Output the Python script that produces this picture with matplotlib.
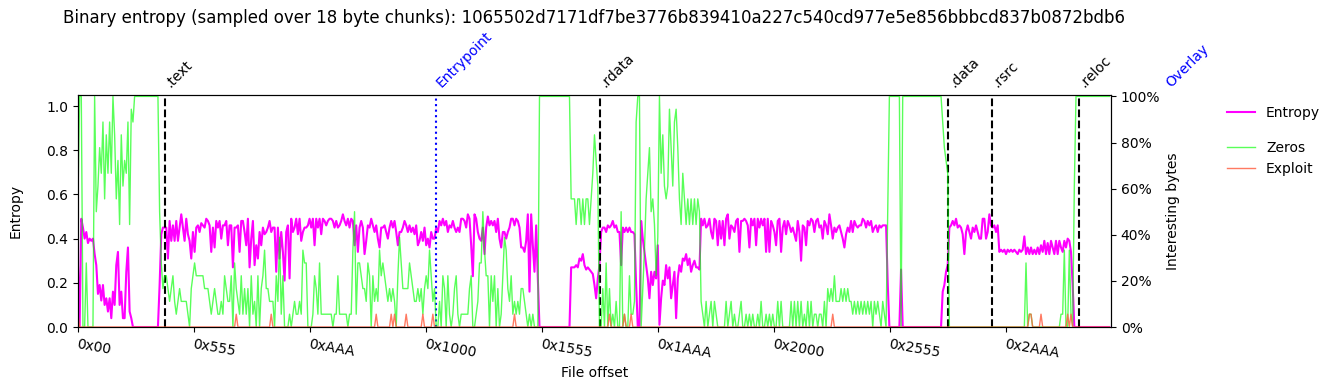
import numpy as np
import matplotlib
matplotlib.use("Agg")
import matplotlib.pyplot as plt
from matplotlib.ticker import PercentFormatter

# -------------------------------
# Data
# -------------------------------
file_hash = "1065502d7171df7be3776b839410a227c540cd977e5e856bbbcd837b0872bdb6"
chunk = 18          # bytes per sample (title)
file_size = 12152   # end of the x axis in bytes

# normalised entropy per sample (left axis)
entropy = [
    0.28, 0.00, 0.49, 0.45, 0.40, 0.43, 0.38, 0.40, 0.39, 0.40,
    0.33, 0.28, 0.15, 0.19, 0.12, 0.19, 0.10, 0.13, 0.07, 0.13, 0.04, 0.16,
    0.10, 0.28, 0.34, 0.10, 0.16, 0.04, 0.04, 0.25, 0.36, 0.07, 0.04, 0.00,
    0, 0, 0, 0, 0, 0, 0, 0, 0, 0, 0, 0, 0, 0, 0,
    0.19, 0.42, 0.45, 0.45, 0.45, 0.31, 0.48, 0.39, 0.46, 0.39, 0.48, 0.39, 0.45,
    0.51, 0.45, 0.39, 0.49, 0.42, 0.39, 0.31, 0.43, 0.34, 0.45, 0.46, 0.43,
    # 0x3b0 ..
    0.47, 0.46, 0.45, 0.49, 0.48, 0.46, 0.34, 0.45, 0.36, 0.48,
    0.45, 0.48, 0.40, 0.46, 0.46, 0.48, 0.37, 0.46, 0.46, 0.27,
    0.45, 0.45, 0.46, 0.34, 0.48, 0.48, 0.43, 0.37, 0.49, 0.27,
    0.40, 0.48, 0.28, 0.37, 0.31, 0.43, 0.37, 0.45, 0.42, 0.43,
    0.45, 0.48, 0.43, 0.45, 0.45, 0.25, 0.45, 0.31, 0.43, 0.34,
    0.21, 0.43, 0.46, 0.22, 0.49, 0.43, 0.45, 0.49, 0.42, 0.49,
    0.39, 0.43, 0.45, 0.45, 0.46, 0.49, 0.45, 0.49, 0.37, 0.49,
    0.45, 0.49, 0.42, 0.49, 0.48, 0.46, 0.48, 0.49,
    # 0xb90 ..
    0.49, 0.48, 0.45, 0.48, 0.45, 0.46, 0.48, 0.51, 0.48, 0.46,
    0.49, 0.45, 0.49, 0.48, 0.37, 0.46, 0.34, 0.45, 0.48, 0.45,
    0.33, 0.39, 0.46, 0.45, 0.49, 0.46, 0.43, 0.46, 0.40, 0.36,
    0.45, 0.45, 0.46, 0.43, 0.40, 0.45, 0.48, 0.45, 0.48, 0.43,
    0.37, 0.43, 0.43, 0.45, 0.48, 0.46, 0.43, 0.46, 0.43, 0.45,
    0.42, 0.46, 0.37, 0.39, 0.43, 0.39, 0.45, 0.37, 0.40, 0.36,
    0.43, 0.40, 0.40, 0.45, 0.43, 0.48, 0.46, 0.49, 0.46, 0.48,
    0.43, 0.46, 0.45, 0.48, 0.45, 0.43, 0.45, 0.43,
    # 0x1170 ..
    0.49, 0.49, 0.48, 0.45, 0.51, 0.49, 0.37, 0.23, 0.51, 0.49,
    0.43, 0.40, 0.39, 0.45, 0.33, 0.45, 0.50, 0.46, 0.48, 0.46,
    0.48, 0.43, 0.49, 0.40, 0.36, 0.43, 0.43, 0.40, 0.43, 0.45,
    0.49, 0.49, 0.46, 0.49, 0.48, 0.45, 0.36, 0.36, 0.34, 0.39,
    0.51, 0.16, 0.51, 0.37, 0.25, 0.46, 0.22,
    0, 0, 0, 0, 0, 0, 0, 0, 0, 0, 0, 0, 0, 0, 0, 0, 0, 0, 0,
    0.27, 0.27, 0.27, 0.28, 0.27, 0.31, 0.30, 0.33, 0.28, 0.26, 0.27, 0.26,
    # 0x1760 ..
    0.25, 0.24, 0.19, 0.13, 0.22, 0.28, 0.43, 0.45, 0.45, 0.43,
    0.46, 0.45, 0.46, 0.48, 0.45, 0.46, 0.43, 0.43, 0.28, 0.45,
    0.43, 0.45, 0.43, 0.45, 0.43, 0.43, 0.42, 0.19, 0.00, 0.00,
    0.48, 0.40, 0.34, 0.28, 0.22, 0.13, 0.25, 0.19, 0.25, 0.22,
    0.37, 0.01, 0.13, 0.21, 0.19, 0.28, 0.22, 0.27, 0.13, 0.19,
    0.25, 0.04, 0.22, 0.28, 0.25, 0.31, 0.30, 0.33, 0.28, 0.31,
    0.25, 0.28, 0.30, 0.27, 0.27, 0.26, 0.49, 0.46, 0.49, 0.45,
    0.46, 0.49, 0.43, 0.40, 0.49, 0.48, 0.37, 0.48,
    # 0x1d40 ..
    0.40, 0.48, 0.37, 0.49, 0.51, 0.40, 0.46, 0.45, 0.43, 0.48,
    0.49, 0.34, 0.48, 0.48, 0.49, 0.48, 0.46, 0.36, 0.49, 0.46,
    0.49, 0.37, 0.49, 0.45, 0.49, 0.46, 0.49, 0.34, 0.49, 0.34,
    0.48, 0.46, 0.43, 0.37, 0.48, 0.49, 0.34, 0.45, 0.48, 0.42,
    0.48, 0.46, 0.43, 0.45, 0.42, 0.39, 0.48, 0.43, 0.30, 0.46,
    0.45, 0.37, 0.48, 0.46, 0.49, 0.48, 0.43, 0.48, 0.49, 0.45,
    0.46, 0.40, 0.48, 0.46, 0.42, 0.51, 0.46, 0.40, 0.45, 0.43,
    0.45, 0.46, 0.43, 0.40, 0.36, 0.42, 0.45, 0.43,
    # 0x2330 ..
    0.48, 0.43, 0.48, 0.46, 0.45, 0.46, 0.46, 0.49, 0.48, 0.45,
    0.48, 0.46, 0.48, 0.43, 0.45, 0.46, 0.43, 0.46, 0.45, 0.46,
    0.46, 0.46, 0.20,
    0, 0, 0, 0, 0, 0, 0,
    0.26,
    0, 0, 0, 0, 0, 0, 0, 0, 0, 0, 0, 0, 0, 0, 0, 0, 0, 0, 0, 0, 0, 0, 0, 0,
    0.16, 0.19, 0.25, 0.28, 0.45, 0.46, 0.48, 0.46, 0.49, 0.45, 0.46,
    0.45, 0.42, 0.33, 0.43, 0.46, 0.43, 0.40, 0.45, 0.43, 0.46, 0.43, 0.40,
    # 0x2910 ..
    0.40, 0.49, 0.49, 0.40, 0.43, 0.51, 0.46, 0.45, 0.46, 0.43, 0.46, 0.34,
    0.35, 0.34, 0.35, 0.33, 0.35, 0.34, 0.35, 0.34, 0.35, 0.34, 0.33, 0.35, 0.34, 0.35,
    0.41, 0.33, 0.36, 0.33, 0.36, 0.33, 0.35, 0.33, 0.36, 0.33,
    0.37, 0.34, 0.39, 0.33, 0.38, 0.33, 0.39, 0.36, 0.33, 0.39,
    0.33, 0.39, 0.36, 0.34, 0.39, 0.36, 0.40, 0.39, 0.34, 0.19,
    0, 0, 0, 0, 0, 0, 0, 0, 0, 0, 0, 0, 0, 0, 0, 0, 0, 0, 0, 0, 0, 0,
]

# zero bytes per chunk (out of 18), right axis
zeros_count = [
    10, 18, 18, 0, 0, 5, 0, 0, 0, 0,
    18, 9, 11, 14, 12, 16, 10, 15, 12, 16, 12, 18, 15, 10, 13, 8, 15, 11, 13, 12, 16, 8, 17, 16,
    18, 18, 18, 18, 18, 18, 18, 18, 18, 18, 18, 18, 18, 18, 18,
    9, 5, 3,
    4, 4, 3, 2, 3, 4, 2, 1, 2, 3, 2, 2, 2, 2, 1, 0, 3, 4, 5, 4, 4, 4,
    # 0x3b0 ..
    4, 4, 3, 3, 3, 2, 1, 2, 3, 2,
    1, 1, 2, 1, 4, 3, 2, 2, 4, 0,
    5, 3, 2, 1, 4, 1, 3, 1, 3, 0,
    4, 1, 2, 0, 4, 0, 3, 4, 6, 3,
    3, 2, 2, 2, 0, 4, 2, 7, 1, 4,
    0, 0, 0, 1, 0, 1, 2, 1, 1, 2,
    1, 6, 5, 5, 0, 0, 0, 1, 4, 3,
    1, 5, 1, 1, 1, 1, 1, 1,
    # 0xb90 ..
    1, 0, 1, 1, 4, 1, 1, 1, 1, 1,
    0, 1, 1, 6, 9, 1, 5, 5, 4, 3,
    3, 2, 5, 4, 0, 4, 2, 3, 2, 6,
    4, 5, 4, 3, 2, 3, 2, 3, 2, 0,
    4, 7, 5, 3, 3, 3, 3, 5, 4, 3,
    2, 2, 3, 2, 3, 1, 3, 4, 3, 6,
    4, 2, 3, 0, 0, 2, 0, 4, 3, 0,
    4, 1, 0, 1, 3, 4, 1, 0,
    # 0x1170 ..
    1, 1, 1, 1, 1, 3, 4, 0, 0, 1,
    2, 5, 5, 9, 6, 4, 4, 0, 4, 2,
    4, 0, 3, 0, 1, 4, 7, 6, 3, 2,
    4, 1, 2, 1, 2, 1, 3, 3, 2, 1,
    0, 1, 0, 1, 0, 0, 0,
    18, 18, 18, 18, 18, 18, 18, 18, 18, 18, 18, 18, 18, 18, 18, 18, 18, 18, 18,
    10, 10, 10, 8, 10, 10, 8, 10, 8, 10, 10, 8,
    # 0x1760 ..
    10, 12, 15, 13, 11, 0, 0, 3, 0, 5,
    0, 3, 0, 1, 0, 2, 0, 0, 9, 0,
    1, 0, 0, 4, 1, 1, 2, 16, 18, 18,
    0, 3, 6, 10, 12, 14, 9, 10, 8, 4,
    7, 18, 12, 15, 11, 10, 11, 17, 14, 11,
    16, 17, 14, 10, 8, 12, 10, 8, 10, 8,
    10, 8, 10, 8, 10, 9, 2, 1, 0, 2,
    0, 1, 2, 0, 2, 1, 0, 0,
    # 0x1d40 ..
    0, 0, 0, 2, 0, 1, 2, 0, 1, 0,
    0, 1, 2, 0, 0, 1, 0, 1, 0, 1,
    0, 0, 1, 0, 2, 0, 0, 1, 0, 1,
    0, 1, 0, 0, 2, 0, 2, 0, 0, 0,
    0, 0, 2, 0, 2, 0, 2, 0, 2, 0,
    1, 0, 2, 0, 2, 0, 1, 1, 0, 1,
    1, 0, 2, 0, 3, 2, 3, 2, 4, 2,
    2, 2, 3, 2, 3, 2, 3, 2,
    # 0x2330 ..
    2, 1, 2, 1, 2, 1, 2, 1, 2, 1,
    2, 1, 2, 0, 2, 1, 2, 1, 0, 2,
    1, 0, 9,
    18, 18, 18, 18, 18, 18, 18,
    0,
    18, 18, 18, 18, 18, 18, 18, 18, 18, 18, 18, 18,
    18, 18, 18, 18, 18, 18, 18, 18, 18, 18, 18, 18,
    16, 14, 13, 12,
    0, 0, 0, 0, 0, 0, 0, 0, 0, 0, 0, 0, 0, 0, 0, 0, 0, 0, 0,
    # 0x2910 ..
    0, 0, 0, 0, 0, 0, 0, 0, 0, 0, 0, 0, 0, 0, 0, 0, 0, 0, 0, 0, 0, 0, 0, 0, 0, 0, 0,
    5, 0, 1, 1, 0,
    0, 0, 0, 0, 0, 0, 0, 0, 0, 0, 0, 0, 0, 0, 0, 0,
    1, 1, 6, 0, 0, 6, 1, 0,
    11,
    18, 18, 18, 18, 18, 18, 18, 18, 18, 18, 18, 18, 18, 18, 18, 18, 18, 18, 18, 18, 18,
]

# samples holding one "exploit" byte
exploit_chunks = [0, 95, 116, 179, 188, 190, 197, 207, 213, 262,
                  319, 328, 332, 453, 571, 572, 578, 594, 596]

section_names = [".text", ".rdata", ".data", ".rsrc", ".reloc"]
section_offsets = [0x400, 0x1800, 0x2800, 0x2A00, 0x2E00]
entry_offset = 0x1070
overlay_offset = 0x3200

tick_labels = ["0x00", "0x555", "0xAAA", "0x1000", "0x1555",
               "0x1AAA", "0x2000", "0x2555", "0x2AAA"]

# -------------------------------
# Build series
# -------------------------------
n = len(entropy)
offsets = np.arange(n) * file_size / n
zeros = np.array(zeros_count) / chunk
exploit = np.zeros(n)
exploit[exploit_chunks] = 1 / chunk
tick_pos = np.arange(len(tick_labels)) * 0x1000 / 3

# -------------------------------
# Plot
# -------------------------------
fig = plt.figure(figsize=(13.35, 3.9), dpi=100)
ax = fig.add_axes([0.0584, 0.1615, 0.7738, 0.5949])

l_ent, = ax.plot(offsets, entropy, color="magenta", lw=1.5, label="Entropy")
ax.set_xlim(0, file_size)
ax.set_ylim(0, 1.05)
ax.set_yticks(np.arange(0, 1.01, 0.2))
ax.set_ylabel("Entropy", labelpad=17)
ax.set_xlabel("File offset")
ax.set_xticks(tick_pos)
ax.set_xticklabels(tick_labels, rotation=-10, ha="left", rotation_mode="anchor")


def section_label(name, off, color="black"):
    ax.annotate(name, (off, 1), xycoords=("data", "axes fraction"),
                xytext=(4, 5), textcoords="offset points", rotation=45,
                ha="left", va="baseline", rotation_mode="anchor",
                color=color, annotation_clip=False)


for name, off in zip(section_names, section_offsets):
    ax.axvline(off, color="black", ls="--", lw=1.5)
    section_label(name, off)

ax.axvline(entry_offset, color="blue", ls=":", lw=1.5)
section_label("Entrypoint", entry_offset, "blue")
section_label("Overlay", overlay_offset, "blue")

ax2 = ax.twinx()
l_zero, = ax2.plot(offsets, zeros, color="lime", alpha=0.65, lw=1, label="Zeros")
l_expl, = ax2.plot(offsets, exploit, color="tomato", alpha=0.85, lw=1, label="Exploit")
ax2.set_ylim(0, 1.006)
ax2.set_yticks(np.arange(0, 1.01, 0.2))
ax2.yaxis.set_major_formatter(PercentFormatter(1.0, decimals=0))
ax2.set_ylabel("Interesting bytes")

ax.set_title(f"Binary entropy (sampled over {chunk} byte chunks): {file_hash}",
             fontsize=12, pad=52)

fig.legend(handles=[l_ent], loc="center left", bbox_to_anchor=(0.915, 0.71),
           frameon=False, borderaxespad=0)
fig.legend(handles=[l_zero, l_expl], loc="center left",
           bbox_to_anchor=(0.915, 0.594), frameon=False, borderaxespad=0)

fig.savefig("out.png", dpi=100)
